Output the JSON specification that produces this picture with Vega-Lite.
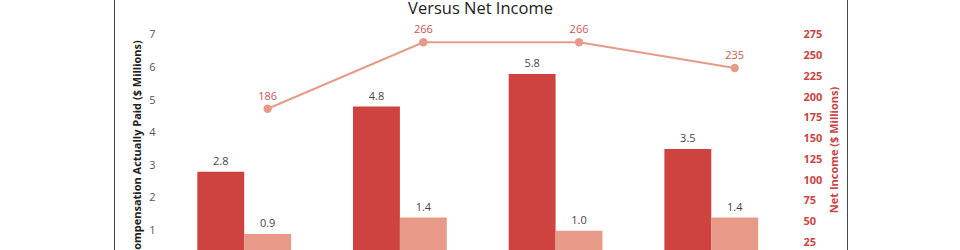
{
  "$schema": "https://vega.github.io/schema/vega-lite/v6.json",
  "autosize": {"type": "none"},
  "padding": {"left": 114, "top": -2, "right": 113, "bottom": 0},
  "width": 733,
  "height": 265.3,
  "title": {
    "text": "Versus Net Income",
    "font": "Open Sans",
    "fontSize": 16.5,
    "fontWeight": "normal",
    "color": "#222",
    "anchor": "middle",
    "frame": "group",
    "offset": -20
  },
  "datasets": {
    "bars": [
      {"year": "2020", "series": "PEO CAP", "value": 2.8},
      {"year": "2020", "series": "Avg Non-PEO NEO CAP", "value": 0.9},
      {"year": "2021", "series": "PEO CAP", "value": 4.8},
      {"year": "2021", "series": "Avg Non-PEO NEO CAP", "value": 1.4},
      {"year": "2022", "series": "PEO CAP", "value": 5.8},
      {"year": "2022", "series": "Avg Non-PEO NEO CAP", "value": 1.0},
      {"year": "2023", "series": "PEO CAP", "value": 3.5},
      {"year": "2023", "series": "Avg Non-PEO NEO CAP", "value": 1.4}
    ],
    "income": [
      {"year": "2020", "net": 186},
      {"year": "2021", "net": 266},
      {"year": "2022", "net": 266},
      {"year": "2023", "net": 235}
    ]
  },
  "encoding": {
    "x": {
      "field": "year",
      "type": "nominal",
      "scale": {"paddingInner": 0, "paddingOuter": 0.354, "align": 0.475},
      "axis": {"title": null, "domain": false, "ticks": false, "labelFont": "Open Sans", "labelFontSize": 11, "labelColor": "#555", "labelAngle": 0}
    }
  },
  "layer": [
    {
      "data": {"name": "bars"},
      "encoding": {
        "y": {
          "field": "value",
          "type": "quantitative",
          "scale": {"domain": [0, 8.125], "nice": false, "zero": true},
          "axis": {
            "orient": "left",
            "offset": -46,
            "values": [0, 1, 2, 3, 4, 5, 6, 7],
            "domain": false,
            "ticks": false,
            "grid": false,
            "labelFont": "Open Sans",
            "labelFontSize": 11,
            "labelColor": "#555",
            "labelPadding": 5,
            "title": "Compensation Actually Paid ($ Millions)",
            "titleFont": "Open Sans",
            "titleFontSize": 11,
            "titleFontWeight": "bold",
            "titleColor": "#222",
            "titlePadding": 6,
            "titleY": 150
          }
        },
        "xOffset": {
          "field": "series",
          "type": "nominal",
          "sort": ["PEO CAP", "Avg Non-PEO NEO CAP"],
          "scale": {"paddingInner": 0, "paddingOuter": 0.66}
        }
      },
      "layer": [
        {
          "mark": {"type": "bar"},
          "encoding": {
            "color": {
              "field": "series",
              "type": "nominal",
              "scale": {"domain": ["PEO CAP", "Avg Non-PEO NEO CAP"], "range": ["#ce4240", "#e89a89"]},
              "legend": null
            }
          }
        },
        {
          "mark": {"type": "text", "baseline": "bottom", "dy": -5, "font": "Open Sans", "fontSize": 11, "color": "#444"},
          "encoding": {
            "text": {"field": "value", "type": "quantitative", "format": ".1f"}
          }
        }
      ]
    },
    {
      "data": {"name": "income"},
      "encoding": {
        "y": {
          "field": "net",
          "type": "quantitative",
          "scale": {"domain": [0, 319.2], "nice": false, "zero": true},
          "axis": {
            "orient": "right",
            "offset": -49,
            "values": [0, 25, 50, 75, 100, 125, 150, 175, 200, 225, 250, 275],
            "domain": false,
            "ticks": false,
            "grid": false,
            "labelFont": "Open Sans",
            "labelFontSize": 11,
            "labelFontWeight": "bold",
            "labelColor": "#c84545",
            "labelPadding": 5,
            "title": "Net Income ($ Millions)",
            "titleFont": "Open Sans",
            "titleFontSize": 11,
            "titleFontWeight": "bold",
            "titleColor": "#c84545",
            "titleAngle": 270,
            "titlePadding": 18,
            "titleY": 151.5
          }
        },
        "xOffset": {"datum": "Avg Non-PEO NEO CAP"}
      },
      "layer": [
        {
          "mark": {"type": "line", "color": "#e89a89", "strokeWidth": 2},
          "encoding": {}
        },
        {
          "mark": {"type": "point", "filled": true, "opacity": 1, "size": 70, "color": "#e89a89"},
          "encoding": {}
        },
        {
          "mark": {"type": "text", "baseline": "bottom", "dy": -7, "font": "Open Sans", "fontSize": 11, "color": "#cc5555"},
          "encoding": {
            "text": {"field": "net", "type": "quantitative", "format": "d"}
          }
        }
      ]
    }
  ],
  "resolve": {"scale": {"y": "independent"}},
  "config": {
    "view": {"stroke": "#444", "strokeWidth": 1},
    "font": "Open Sans"
  }
}
